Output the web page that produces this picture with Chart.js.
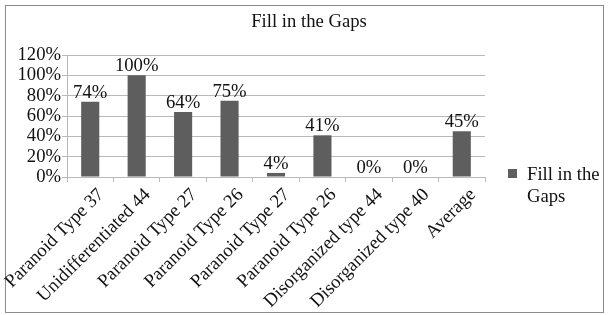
<!DOCTYPE html>
<html lang="en">
<head>
<meta charset="UTF-8">
<title>Fill in the Gaps</title>
<script src="https://cdn.jsdelivr.net/npm/chart.js"></script>
<style>
  body { margin: 0; background: #fff; }
  #wrap { position: relative; width: 608px; height: 315px; }
  #legend { position: absolute; left: 508px; top: 163px; font: 18.67px "Liberation Serif", serif; color: #111; }
  #legend .box { position: absolute; left: 0; top: 6px; width: 9px; height: 9px; background: #5e5e5e; }
  #legend .txt { position: absolute; left: 19px; top: 0; width: 82px; line-height: 22px; }
</style>
</head>
<body>
<div id="wrap">
  <canvas id="myChart" width="608" height="315"></canvas>
  <div id="legend"><span class="box"></span><span class="txt">Fill in the Gaps</span></div>
</div>
<script>
  const categories = ['Paranoid Type 37', 'Unidifferentiated 44', 'Paranoid Type 27', 'Paranoid Type 26',
    'Paranoid Type 27', 'Paranoid Type 26', 'Disorganized type 44', 'Disorganized type 40', 'Average'];
  const values = [74, 100, 64, 75, 4, 41, 0, 0, 45];
  const yMin = 0, yMax = 120, yStep = 20;

  const SERIF = '"Liberation Serif", "Times New Roman", serif';
  const FS = 18.67;
  const GRID = '#b9b9b9';

  // cadre gris autour du graphique
  const borderPlugin = {
    id: 'frame',
    beforeDraw: (chart) => {
      const ctx = chart.ctx;
      ctx.save();
      ctx.fillStyle = '#fff';
      ctx.fillRect(0, 0, chart.width, chart.height);
      ctx.strokeStyle = '#8c8c8c';
      ctx.lineWidth = 1;
      ctx.strokeRect(5.5, 5.5, 598, 307);
      ctx.restore();
    }
  };

  // étiquettes de valeur au-dessus des barres
  const valueLabels = {
    id: 'valueLabels',
    afterDatasetsDraw: (chart) => {
      const ctx = chart.ctx;
      const meta = chart.getDatasetMeta(0);
      ctx.save();
      ctx.font = FS + 'px ' + SERIF;
      ctx.fillStyle = '#111';
      ctx.textAlign = 'center';
      ctx.textBaseline = 'alphabetic';
      meta.data.forEach((bar, i) => {
        ctx.fillText(values[i] + '%', bar.x, bar.y - 4);
      });
      ctx.restore();
    }
  };

  new Chart(document.getElementById('myChart'), {
    type: 'bar',
    data: {
      labels: categories,
      datasets: [{
        label: 'Fill in the Gaps',
        data: values,
        backgroundColor: '#5e5e5e',
        categoryPercentage: 1,
        barPercentage: 0.39
      }]
    },
    options: {
      responsive: false,
      animation: false,
      layout: { padding: { left: 10, right: 0, top: 0, bottom: 5 } },
      plugins: {
        legend: { display: false },
        tooltip: { enabled: false },
        title: {
          display: true,
          text: 'Fill in the Gaps',
          color: '#111',
          font: { family: SERIF, size: FS, weight: 'normal' },
          padding: { top: 11, bottom: 21.6 }
        }
      },
      scales: {
        x: {
          grid: { drawOnChartArea: false, color: GRID, tickLength: 5, offset: true },
          border: { color: GRID },
          ticks: { color: '#111', font: { family: SERIF, size: FS }, minRotation: 45, maxRotation: 45,
            autoSkip: false, padding: 2, labelOffset: 11 },
          afterFit: (scale) => {
            scale.height = 133;
            // les étiquettes inclinées ne doivent pas décaler la zone du graphique
            scale.paddingLeft = 0;
            scale.paddingRight = 0;
          }
        },
        y: {
          min: yMin, max: yMax,
          grid: { color: GRID, tickLength: 5 },
          border: { color: GRID },
          ticks: { stepSize: yStep, autoSkip: false, color: '#111', font: { family: SERIF, size: FS },
            padding: 1, callback: (v) => v + '%' },
          afterFit: (scale) => { scale.width = 57; }
        },
        // axe vide à droite : réserve la place de la légende
        side: {
          position: 'right',
          display: true,
          grid: { display: false },
          border: { display: false },
          ticks: { display: false },
          afterFit: (scale) => { scale.width = 123; }
        }
      }
    },
    plugins: [borderPlugin, valueLabels]
  });
</script>
</body>
</html>
